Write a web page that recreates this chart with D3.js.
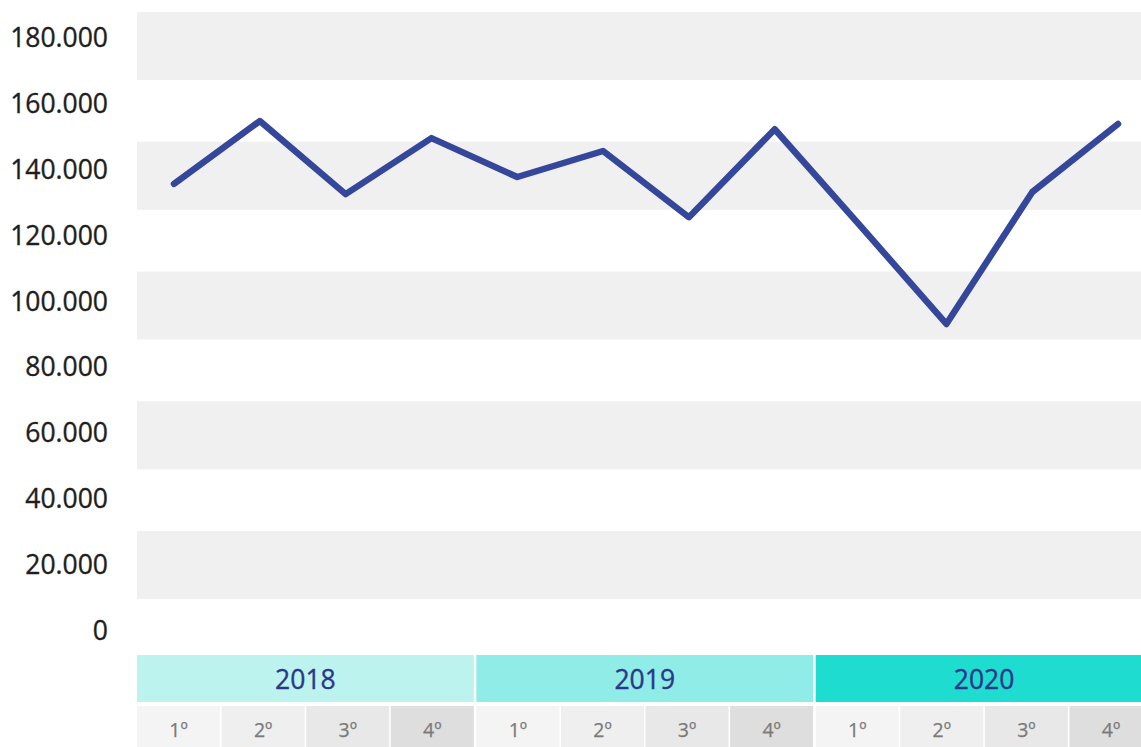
<!DOCTYPE html>
<html>
<head>
<meta charset="utf-8">
<script src="https://cdn.jsdelivr.net/npm/d3@7"></script>
<style>
  html, body { margin: 0; padding: 0; background: #ffffff; overflow: hidden; }
  svg { display: block; }
  text { font-family: "Open Sans", "Noto Sans", sans-serif; }
</style>
</head>
<body>
<svg id="chart" width="1141" height="747"></svg>
<script>
// ---- data ----
const years = ["2018", "2019", "2020"];
const quarters = ["1º", "2º", "3º", "4º"];
const values = [135400, 154500, 132300, 149300, 137500, 145400, 125300, 152000, 122600, 92900, 132900, 153600];
const yTicks = [0, 20000, 40000, 60000, 80000, 100000, 120000, 140000, 160000, 180000];
const yearColors = ["#bcf3ef", "#8fece6", "#1fdcd0"];
const quarterColors = ["#f4f4f4", "#efefef", "#e8e8e8", "#dedede"];

// ---- layout ----
const W = 1141, H = 747;
const plotLeft = 137, plotRight = 1141;
const svg = d3.select("#chart");

const y = d3.scaleLinear().domain([0, 180000]).range([630, 37]);

// alternate gray row bands
const rowScale = d3.scaleLinear().domain([0, 5]).range([12, 660.75]);
svg.append("g").selectAll("rect")
  .data(d3.range(5))
  .join("rect")
  .attr("x", plotLeft)
  .attr("y", d => rowScale(d))
  .attr("width", plotRight - plotLeft)
  .attr("height", 68)
  .attr("fill", "#f0f0f0");

// y axis labels
const yAxis = d3.axisLeft(y)
  .tickValues(yTicks)
  .tickSize(0)
  .tickPadding(0)
  .tickFormat(d => d === 0 ? "0" : d3.format(",")(d).replace(/,/g, "."));
const gy = svg.append("g").attr("transform", "translate(108,0)").call(yAxis);
gy.select(".domain").remove();
gy.selectAll("text")
  .attr("fill", "#1e1e1e")
  .attr("stroke", "#1e1e1e")
  .attr("stroke-width", 0.35)
  .style("font-size", "26.5px")
  .attr("dy", "0.36em");

// year & quarter cells
const yearScale = d3.scaleBand().domain(years).range([plotLeft, plotLeft + 338.5 * 3]).paddingInner(2.5 / 338.5).paddingOuter(0);
const yearG = svg.append("g");
yearG.selectAll("rect")
  .data(years)
  .join("rect")
  .attr("x", d => yearScale(d))
  .attr("y", 655)
  .attr("width", yearScale.bandwidth())
  .attr("height", 47)
  .attr("fill", (d, i) => yearColors[i]);
yearG.selectAll("text")
  .data(years)
  .join("text")
  .attr("x", d => yearScale(d) + yearScale.bandwidth() / 2)
  .attr("y", 679)
  .attr("dy", "0.36em")
  .attr("text-anchor", "middle")
  .attr("fill", "#2b3889")
  .attr("stroke", "#2b3889")
  .attr("stroke-width", 0.35)
  .style("font-size", "26.5px")
  .text(d => d);

const qScale = d3.scaleBand().domain(quarters).range([0, yearScale.bandwidth()]).paddingInner(0.018).paddingOuter(0);
years.forEach(yr => {
  const g = svg.append("g").attr("transform", `translate(${yearScale(yr)},0)`);
  g.selectAll("rect")
    .data(quarters)
    .join("rect")
    .attr("x", d => qScale(d))
    .attr("y", 706)
    .attr("width", qScale.bandwidth())
    .attr("height", 60)
    .attr("fill", (d, i) => quarterColors[i]);
  g.selectAll("text")
    .data(quarters)
    .join("text")
    .attr("x", d => qScale(d) + qScale.bandwidth() / 2)
    .attr("y", 729.5)
    .attr("dy", "0.36em")
    .attr("text-anchor", "middle")
    .attr("fill", "#7a7a7a")
    .attr("stroke", "#7a7a7a")
    .attr("stroke-width", 0.25)
    .style("font-size", "19.5px")
    .text(d => d);
});

// line
const keys = [];
years.forEach(yr => quarters.forEach(q => keys.push(yr + "-" + q)));
const x = d3.scalePoint().domain(keys).range([174, 1118]);
const line = d3.line()
  .x((d, i) => x(keys[i]))
  .y(d => y(d));
svg.append("path")
  .datum(values)
  .attr("d", line)
  .attr("fill", "none")
  .attr("stroke", "#34479b")
  .attr("stroke-width", 6.5)
  .attr("stroke-linejoin", "round")
  .attr("stroke-linecap", "round");
</script>
</body>
</html>
